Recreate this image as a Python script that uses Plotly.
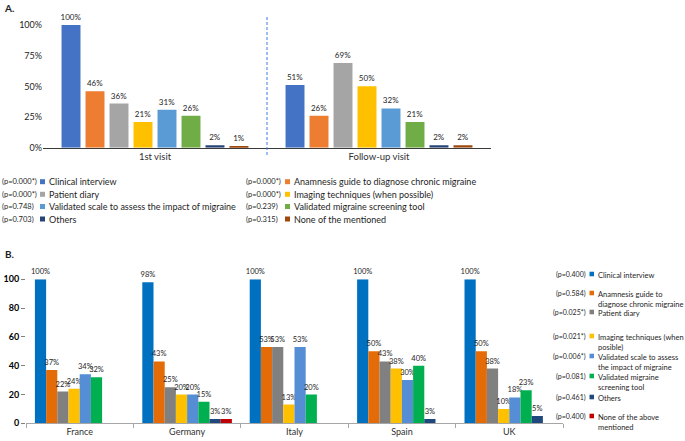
import plotly.graph_objects as go

W, H = 685, 441
FONT = "Lato, Liberation Sans, sans-serif"
TXT = "#1e1e1e"

# ---------------- Panel A data ----------------
visits = ["1st visit", "Follow-up visit"]
a_series = ["Clinical interview", "Anamnesis guide to diagnose chronic migraine", "Patient diary",
            "Imaging techniques (when possible)", "Validated scale to assess the impact of migraine",
            "Validated migraine screening tool", "Others", "None of the mentioned"]
a_colors = ["#4472C4", "#ED7D31", "#A5A5A5", "#FFC000", "#5B9BD5", "#70AD47", "#264478", "#9E480E"]
a_pvalues = ["(p=0.000*)", "(p=0.000*)", "(p=0.000*)", "(p=0.000*)", "(p=0.748)", "(p=0.239)", "(p=0.703)", "(p=0.315)"]
a_first_visit = [100, 46, 36, 21, 31, 26, 2, 1]
a_followup_visit = [51, 26, 69, 50, 32, 21, 2, 2]
a_yticks = [0, 25, 50, 75, 100]
a_yticktext = ["0%", "25%", "50%", "75%", "100%"]

# ---------------- Panel B data ----------------
countries = ["France", "Germany", "Italy", "Spain", "UK"]
b_series = ["Clinical interview", "Anamnesis guide to<br>diagnose chronic migraine", "Patient diary",
            "Imaging techniques (when<br>posible)", "Validated scale to assess<br>the impact of migraine",
            "Validated migraine<br>screening tool", "Others", "None of the above<br>mentioned"]
b_colors = ["#0070C0", "#E36C09", "#808080", "#FFC000", "#558ED5", "#00B050", "#1F497D", "#C00000"]
b_pvalues = ["(p=0.400)", "(p=0.584)", "(p=0.025*)", "(p=0.021*)", "(p=0.006*)", "(p=0.081)", "(p=0.461)", "(p=0.400)"]
b_clinical = [100, 98, 100, 100, 100]
b_anamnesis = [37, 43, 53, 50, 50]
b_diary = [22, 25, 53, 43, 38]
b_imaging = [24, 20, 13, 38, 10]
b_scale = [34, 20, 53, 30, 18]
b_screening = [32, 15, 20, 40, 23]
b_others = [None, 3, None, 3, 5]
b_none = [None, 3, None, None, None]
b_values = [b_clinical, b_anamnesis, b_diary, b_imaging, b_scale, b_screening, b_others, b_none]
b_yticks = [0, 20, 40, 60, 80, 100]


def px_x(x):
    return x / W


def px_y(y):
    return 1 - y / H


fig = go.Figure()

for i, name in enumerate(a_series):
    vals = [a_first_visit[i], a_followup_visit[i]]
    fig.add_trace(go.Bar(
        x=visits, y=vals, name=name, marker_color=a_colors[i], marker_line_width=0,
        text=[f"{v}%" for v in vals], textposition="outside",
        textfont=dict(size=8, color=TXT, family=FONT), cliponaxis=False,
        xaxis="x", yaxis="y", showlegend=False))

# panel B: bars touch each other inside a group
nb = len(b_series)
b_group = 0.834
b_w = b_group / nb
for i, name in enumerate(b_series):
    vals = b_values[i]
    fig.add_trace(go.Bar(
        x=countries, y=vals, name=name.replace("<br>", " "), marker_color=b_colors[i], marker_line_width=0,
        width=b_w, offset=-b_group / 2 + i * b_w,
        text=[(f"{v}%" if v is not None else "") for v in vals], textposition="outside",
        textfont=dict(size=7.5, color=TXT, family=FONT), cliponaxis=False,
        xaxis="x2", yaxis="y2", showlegend=False))

fig.update_layout(
    width=W, height=H, margin=dict(l=0, r=0, t=0, b=0),
    paper_bgcolor="white", plot_bgcolor="white",
    barmode="group", bargap=0.143, bargroupgap=0.21,
    font=dict(family=FONT, color=TXT, size=9),
    xaxis=dict(domain=[px_x(43), px_x(491)], anchor="y", showline=True, linecolor="#3a3a3a",
               linewidth=1, ticks="", showgrid=False, zeroline=False,
               tickfont=dict(size=9.5, color="#303030", weight="normal"), automargin=False),
    yaxis=dict(domain=[px_y(147.7), px_y(25)], anchor="x", range=[0, 100], tickvals=a_yticks,
               ticktext=a_yticktext, showgrid=False, zeroline=False, showline=False, ticks="",
               tickfont=dict(size=9, color=TXT), automargin=False),
    xaxis2=dict(domain=[px_x(26), px_x(563)], anchor="y2", showline=True, linecolor="#A6A6A6",
                linewidth=1, ticks="outside", tickson="boundaries", ticklen=4, tickcolor="#A6A6A6",
                showgrid=False, zeroline=False, tickfont=dict(size=9, color="#303030", weight="normal"),
                automargin=False),
    yaxis2=dict(domain=[px_y(423.3), px_y(279.3)], anchor="x2", range=[0, 100], tickvals=b_yticks,
                showgrid=False, zeroline=False, showline=False, ticks="outside", ticklen=4,
                tickcolor="#808080", tickfont=dict(size=9, color="#000000", weight="bold"),
                automargin=False),
)
fig.update_traces(constraintext="none")

shapes = []
annotations = []
# dashed separator between the two visits in panel A
shapes.append(dict(type="line", xref="x", yref="paper", x0=0.5, x1=0.5, y0=px_y(155), y1=px_y(16.7),
                   line=dict(color="#3F7BE6", width=1, dash="3px,2px")))

# panel letters
annotations.append(dict(text="<b>A.</b>", x=px_x(2), y=px_y(8), xref="paper", yref="paper",
                        xanchor="left", yanchor="middle", showarrow=False, font=dict(size=10, color=TXT)))
annotations.append(dict(text="<b>B.</b>", x=px_x(3), y=px_y(254), xref="paper", yref="paper",
                        xanchor="left", yanchor="middle", showarrow=False, font=dict(size=10, color=TXT)))

# panel A legend: two columns, four rows
a_rows_y = [181.7, 194.3, 206.5, 219]
a_order = [[0, 2, 4, 6], [1, 3, 5, 7]]
a_cols = [(0, 40, 47), (244, 285, 292)]
for c, idxs in enumerate(a_order):
    p_x, sq_x, lab_x = a_cols[c]
    for r, i in enumerate(idxs):
        y = a_rows_y[r]
        annotations.append(dict(text=a_pvalues[i], x=px_x(p_x), y=px_y(y), xref="paper", yref="paper",
                                xanchor="left", yanchor="middle", showarrow=False,
                                font=dict(size=7.5, color=TXT)))
        shapes.append(dict(type="rect", xref="paper", yref="paper", x0=px_x(sq_x), x1=px_x(sq_x + 5),
                           y0=px_y(y + 2.5), y1=px_y(y - 2.5), fillcolor=a_colors[i], line_width=0))
        annotations.append(dict(text=a_series[i], x=px_x(lab_x), y=px_y(y), xref="paper", yref="paper",
                                xanchor="left", yanchor="middle", showarrow=False,
                                font=dict(size=9, color=TXT)))

# panel B legend
b_rows_y = [274, 293, 312, 336, 356, 376, 397, 416]
for i, name in enumerate(b_series):
    y = b_rows_y[i]
    annotations.append(dict(text=b_pvalues[i], x=px_x(588), y=px_y(y), xref="paper", yref="paper",
                            xanchor="right", yanchor="middle", showarrow=False,
                            font=dict(size=7, color=TXT)))
    shapes.append(dict(type="rect", xref="paper", yref="paper", x0=px_x(589.5), x1=px_x(594),
                       y0=px_y(y + 2.3), y1=px_y(y - 2.3), fillcolor=b_colors[i], line_width=0))
    annotations.append(dict(text=name, x=px_x(596), y=px_y(y - 5.5), xref="paper", yref="paper",
                            xanchor="left", yanchor="top", align="left", showarrow=False,
                            font=dict(size=7.5, color=TXT)))

fig.update_layout(shapes=shapes, annotations=annotations)
fig.write_html("out.html", config={"displayModeBar": False},
               post_script="document.body.style.margin='0';")
